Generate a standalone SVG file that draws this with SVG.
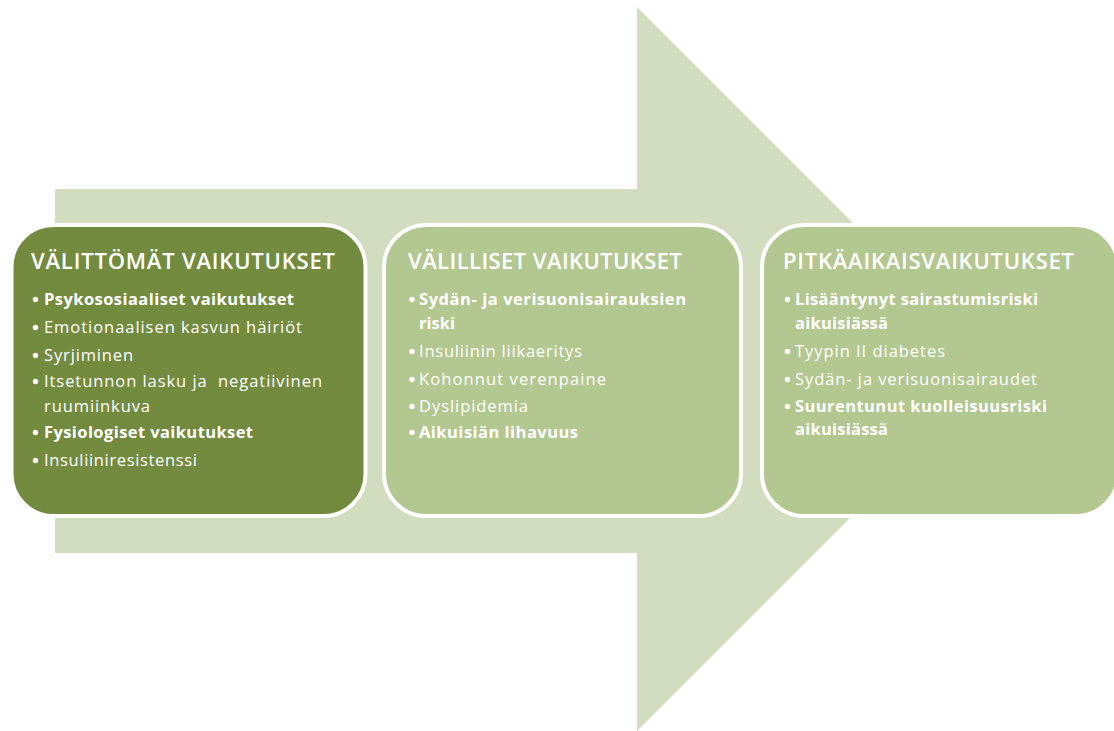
<svg xmlns="http://www.w3.org/2000/svg" width="1114" height="731" viewBox="0 0 1114 731">
  <style>
    .arrow { fill: #D1DDBE; }
    .box { stroke: #FFFFFF; stroke-width: 4; }
    .dark { fill: #738B3F; }
    .light { fill: #B3C790; }
    text { font-family: "Open Sans", "Liberation Sans", sans-serif; fill: #FFFFFF; font-variant-ligatures: none; }
    .title { font-size: 22px; font-weight: 600; }
    .item { font-size: 16.5px; font-weight: 400; }
    .strong { font-weight: 700; }
    .dot { fill: #FFFFFF; }
  </style>

  <!-- large background arrow pointing right -->
  <g id="background-arrow">
    <path class="arrow" d="M55,189 H637 V7 L999,369 L637,731 V553 H55 Z"/>
  </g>

  <!-- phase boxes -->
  <g id="node-valittomat">
    <rect class="box dark" x="11.5" y="225" width="354" height="291" rx="42" ry="42"/>
    <text class="title" x="31" y="269" textLength="304">VÄLITTÖMÄT VAIKUTUKSET</text>
    <circle class="dot" cx="35.5" cy="299.5" r="2.7"/>
    <text class="item strong" x="44" y="305" textLength="250">Psykososiaaliset vaikutukset</text>
    <circle class="dot" cx="35.5" cy="327.5" r="2.7"/>
    <text class="item" x="44" y="333" textLength="258">Emotionaalisen kasvun häiriöt</text>
    <circle class="dot" cx="35.5" cy="355.5" r="2.7"/>
    <text class="item" x="44" y="361" textLength="89">Syrjiminen</text>
    <circle class="dot" cx="35.5" cy="381.5" r="2.7"/>
    <text class="item" x="44" y="387" textLength="278" xml:space="preserve" style="white-space:pre">Itsetunnon lasku ja  negatiivinen</text>
    <text class="item" x="44" y="412" textLength="106">ruumiinkuva</text>
    <circle class="dot" cx="35.5" cy="432.5" r="2.7"/>
    <text class="item strong" x="44" y="438" textLength="209">Fysiologiset vaikutukset</text>
    <circle class="dot" cx="35.5" cy="460.5" r="2.7"/>
    <text class="item" x="44" y="466" textLength="153">Insuliiniresistenssi</text>
  </g>

  <g id="node-valilliset">
    <rect class="box light" x="384" y="225" width="357" height="291" rx="42" ry="42"/>
    <text class="title" x="408" y="269" textLength="274">VÄLILLISET VAIKUTUKSET</text>
    <circle class="dot" cx="412" cy="299.5" r="2.7"/>
    <text class="item strong" x="419" y="305" textLength="267">Sydän- ja verisuonisairauksien</text>
    <text class="item strong" x="419" y="329" textLength="36">riski</text>
    <circle class="dot" cx="412" cy="351.5" r="2.7"/>
    <text class="item" x="419" y="357" textLength="163">Insuliinin liikaeritys</text>
    <circle class="dot" cx="412" cy="379.5" r="2.7"/>
    <text class="item" x="419" y="385" textLength="187">Kohonnut verenpaine</text>
    <circle class="dot" cx="412" cy="406.5" r="2.7"/>
    <text class="item" x="419" y="412" textLength="109">Dyslipidemia</text>
    <circle class="dot" cx="412" cy="432.5" r="2.7"/>
    <text class="item strong" x="419" y="438" textLength="159">Aikuisiän lihavuus</text>
  </g>

  <g id="node-pitkaaikais">
    <rect class="box light" x="762" y="225" width="356" height="291" rx="42" ry="42"/>
    <text class="title" x="783" y="269" textLength="291">PITKÄAIKAISVAIKUTUKSET</text>
    <circle class="dot" cx="787.5" cy="299.5" r="2.7"/>
    <text class="item strong" x="795" y="305" textLength="243">Lisääntynyt sairastumisriski</text>
    <text class="item strong" x="795" y="329" textLength="93">aikuisiässä</text>
    <circle class="dot" cx="787.5" cy="351.5" r="2.7"/>
    <text class="item" x="795" y="357" textLength="150">Tyypin II diabetes</text>
    <circle class="dot" cx="787.5" cy="379.5" r="2.7"/>
    <text class="item" x="795" y="385" textLength="242">Sydän- ja verisuonisairaudet</text>
    <circle class="dot" cx="787.5" cy="406.5" r="2.7"/>
    <text class="item strong" x="795" y="412" textLength="252">Suurentunut kuolleisuusriski</text>
    <text class="item strong" x="795" y="435" textLength="93">aikuisiässä</text>
  </g>

  <!-- no connectors: the flow is carried by the background arrow -->
  <g id="connectors"/>
</svg>
